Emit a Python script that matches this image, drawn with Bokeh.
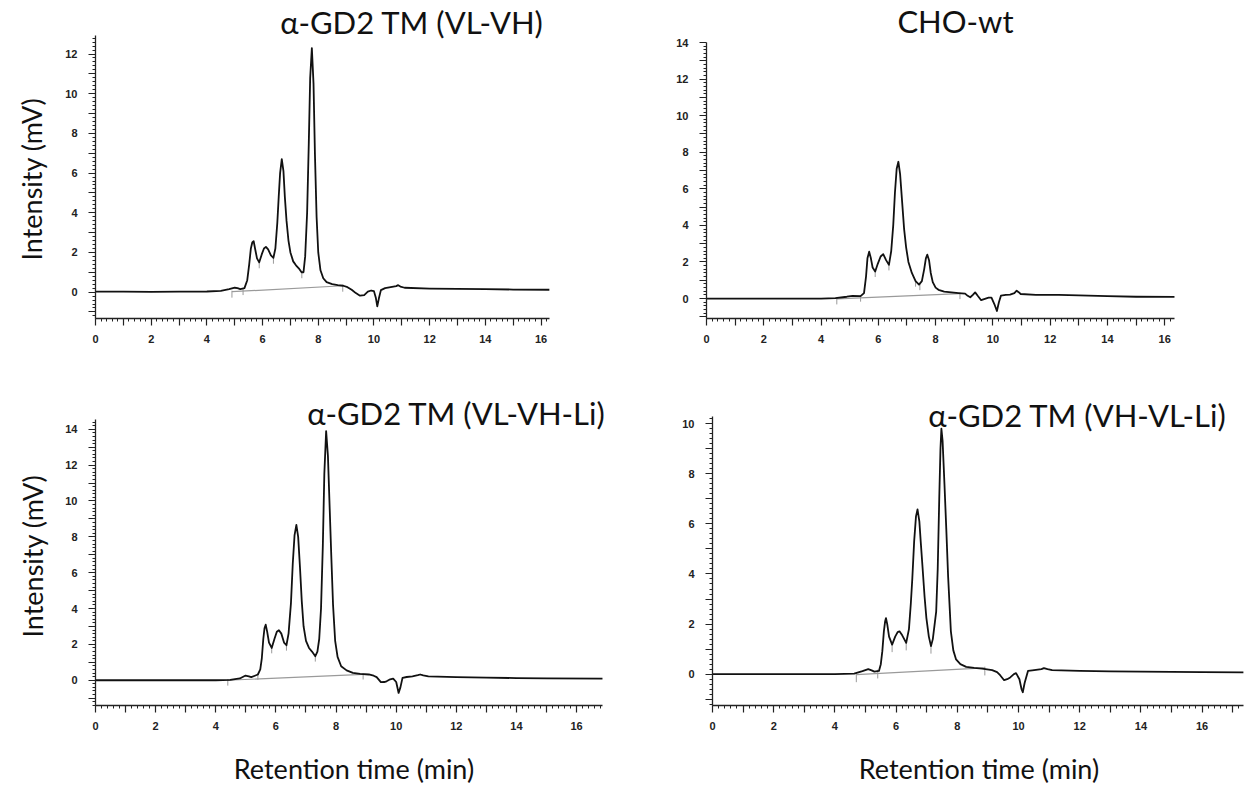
import numpy as np
from bokeh.plotting import figure
from bokeh.layouts import column, row
from bokeh.models import FixedTicker, Label, Range1d, Title
from bokeh.embed import file_html
from bokeh.resources import INLINE

# ---------------- data ----------------
titles = ["α-GD2 TM (VL-VH)", "CHO-wt", "α-GD2 TM (VL-VH-Li)", "α-GD2 TM (VH-VL-Li)"]
y_title = "Intensity (mV)"
x_title = "Retention time (min)"

# Panel 1: α-GD2 TM (VL-VH)
t1 = [0, 1, 2, 3, 4, 4.5, 4.8, 5.0, 5.1, 5.2, 5.35, 5.45, 5.52, 5.58, 5.63, 5.68, 5.73, 5.8, 5.88,
      5.97, 6.05, 6.12, 6.2, 6.3, 6.39, 6.46, 6.53, 6.58, 6.63, 6.69, 6.75, 6.8, 6.86, 6.93, 7.0,
      7.1, 7.2, 7.3, 7.4, 7.47, 7.53, 7.6, 7.66, 7.71, 7.77, 7.83, 7.88, 7.94, 8.0, 8.08, 8.18,
      8.3, 8.5, 8.7, 8.9, 9.05, 9.2, 9.35, 9.5, 9.65, 9.78, 9.9, 10.0, 10.07, 10.12, 10.18, 10.25,
      10.4, 10.6, 10.8, 10.87, 10.95, 11.1, 12, 13, 14, 15, 16.3]
i1 = [0.02, 0.02, 0.01, 0.02, 0.03, 0.06, 0.15, 0.22, 0.2, 0.15, 0.2, 0.6, 1.4, 2.2, 2.5, 2.57, 2.2, 1.7, 1.5,
      1.9, 2.2, 2.28, 2.15, 1.85, 1.73, 2.2, 3.5, 4.8, 6.0, 6.7, 6.1, 4.8, 3.6, 2.6, 2.0,
      1.55, 1.35, 1.2, 1.0, 1.0, 1.8, 4.0, 7.5, 10.8, 12.3, 10.5, 7.0, 3.8, 2.0, 1.1, 0.7,
      0.5, 0.4, 0.35, 0.32, 0.25, 0.12, -0.05, -0.18, -0.15, 0.02, 0.08, 0.05, -0.3, -0.72, -0.3, 0.1,
      0.2, 0.25, 0.3, 0.35, 0.28, 0.22, 0.18, 0.16, 0.15, 0.13, 0.12]
base1 = [(4.9, 0.02), (8.9, 0.32)]
marks1_t = [4.9, 5.3, 5.88, 6.39, 7.41, 8.88]
marks1_v = [0.02, 0.15, 1.5, 1.73, 1.0, 0.32]

# Panel 2: CHO-wt
t2 = [0, 2, 4, 4.5, 4.9, 5.1, 5.38, 5.5, 5.57, 5.62, 5.68, 5.74, 5.8, 5.89, 5.98, 6.08, 6.17, 6.27,
      6.37, 6.45, 6.52, 6.58, 6.64, 6.7, 6.76, 6.83, 6.9, 6.97, 7.05, 7.17, 7.3, 7.42, 7.52, 7.6,
      7.66, 7.71, 7.77, 7.83, 7.9, 8.0, 8.1, 8.3, 8.55, 8.8, 9.03, 9.12, 9.21, 9.3, 9.38, 9.47,
      9.59, 9.72, 9.85, 9.95, 10.05, 10.14, 10.21, 10.28, 10.45, 10.6, 10.75, 10.83, 10.9, 10.97,
      11.5, 12.3, 13, 14, 15, 16.34]
i2 = [0.0, 0.0, 0.0, 0.02, 0.1, 0.15, 0.13, 0.3, 1.2, 2.2, 2.56, 2.2, 1.7, 1.48, 1.9, 2.3, 2.43, 2.1,
      1.84, 2.6, 4.0, 5.8, 7.1, 7.48, 6.8, 5.3, 3.8, 2.8, 2.0, 1.4, 0.95, 0.76, 0.95, 1.6,
      2.2, 2.4, 2.1, 1.4, 0.9, 0.6, 0.48, 0.38, 0.34, 0.3, 0.27, 0.15, 0.07, 0.2, 0.34, 0.15,
      -0.09, -0.02, 0.05, 0.05, -0.3, -0.68, -0.2, 0.16, 0.2, 0.22, 0.3, 0.43, 0.35, 0.25,
      0.2, 0.2, 0.17, 0.13, 0.1, 0.09]
base2 = [(4.55, -0.02), (8.85, 0.27)]
marks2_t = [4.55, 5.38, 5.89, 6.37, 7.3, 7.45, 8.85]
marks2_v = [-0.02, 0.13, 1.48, 1.84, 0.95, 0.76, 0.27]

# Panel 3: α-GD2 TM (VL-VH-Li)
t3 = [0, 2, 4, 4.48, 4.8, 4.99, 5.1, 5.18, 5.3, 5.4, 5.48, 5.53, 5.58, 5.62, 5.66, 5.71, 5.77, 5.86,
      5.95, 6.03, 6.1, 6.18, 6.27, 6.35, 6.42, 6.5, 6.56, 6.62, 6.68, 6.74, 6.8, 6.86, 6.92, 7.0,
      7.1, 7.2, 7.31, 7.38, 7.44, 7.5, 7.56, 7.61, 7.67, 7.73, 7.79, 7.84, 7.9, 7.97, 8.05, 8.17,
      8.35, 8.56, 8.8, 9.09, 9.25, 9.35, 9.49, 9.6, 9.68, 9.8, 9.9, 10.0, 10.08, 10.14, 10.21,
      10.35, 10.54, 10.72, 10.8, 10.9, 11.07, 12, 13, 14, 15, 16.86]
i3 = [0.0, 0.0, 0.0, 0.02, 0.1, 0.26, 0.22, 0.17, 0.25, 0.32, 0.6, 1.2, 2.3, 2.9, 3.1, 2.7, 2.1, 1.8,
      2.3, 2.7, 2.79, 2.6, 2.1, 1.95, 2.6, 4.3, 6.5, 8.1, 8.67, 8.0, 6.3, 4.4, 3.0, 2.2,
      1.8, 1.6, 1.34, 1.6, 2.3, 4.0, 7.5, 11.5, 13.9, 12.5, 9.5, 7.0, 4.2, 2.2, 1.3, 0.78,
      0.55, 0.41, 0.36, 0.32, 0.25, 0.17, -0.11, -0.1, -0.06, 0.05, 0.09, -0.1, -0.71, -0.4, 0.13,
      0.18, 0.22, 0.28, 0.32, 0.27, 0.22, 0.17, 0.14, 0.12, 0.1, 0.09]
base3 = [(4.4, 0.0), (8.9, 0.33)]
marks3_t = [4.4, 5.4, 5.86, 6.35, 7.31, 8.9]
marks3_v = [0.0, 0.32, 1.8, 1.95, 1.34, 0.34]

# Panel 4: α-GD2 TM (VH-VL-Li)
t4 = [0, 2, 4, 4.63, 4.9, 5.09, 5.2, 5.29, 5.44, 5.5, 5.55, 5.6, 5.64, 5.67, 5.71, 5.77, 5.87, 5.97,
      6.05, 6.11, 6.2, 6.33, 6.42, 6.48, 6.53, 6.59, 6.65, 6.7, 6.76, 6.81, 6.86, 6.93, 6.99, 7.07,
      7.14, 7.2, 7.26, 7.31, 7.36, 7.41, 7.45, 7.48, 7.52, 7.58, 7.64, 7.7, 7.79, 7.87, 7.96, 8.1,
      8.29, 8.55, 8.81, 9.14, 9.3, 9.4, 9.53, 9.63, 9.73, 9.85, 9.92, 10.03, 10.1, 10.14, 10.2,
      10.31, 10.45, 10.57, 10.75, 10.83, 10.95, 11.1, 12, 13, 14, 15, 16, 17.35]
i4 = [0.0, 0.0, 0.0, 0.02, 0.12, 0.2, 0.15, 0.1, 0.13, 0.4, 0.92, 1.7, 2.1, 2.24, 2.0, 1.5, 1.18, 1.5,
      1.68, 1.71, 1.55, 1.25, 1.8, 2.8, 3.82, 5.3, 6.3, 6.58, 6.1, 5.2, 4.34, 3.1, 2.24, 1.5,
      1.12, 1.4, 2.0, 2.5, 4.2, 7.0, 9.0, 9.8, 9.3, 7.6, 5.8, 3.9, 1.71, 0.95, 0.59, 0.4,
      0.29, 0.25, 0.22, 0.16, 0.08, -0.04, -0.24, -0.2, -0.13, 0.0, 0.04, -0.2, -0.6, -0.72, -0.35,
      0.13, 0.15, 0.17, 0.2, 0.24, 0.2, 0.16, 0.13, 0.11, 0.1, 0.09, 0.08, 0.07]
base4 = [(4.7, -0.02), (8.9, 0.25)]
marks4_t = [4.7, 5.4, 5.87, 6.33, 7.14, 8.9]
marks4_v = [-0.02, 0.13, 1.18, 1.25, 1.12, 0.25]

# axis extents: x axis end, y axis (bottom, top), highest labelled y tick
x_ends = [16.32, 16.34, 16.86, 17.35]
y_axes = [(-1.33, 12.95), (-1.09, 14.0), (-1.41, 14.56), (-1.25, 10.3)]
y_label_max = [12, 14, 14, 10]

FONT = "Lato"


def panel(t, i, base, mt, mv, xend, yax, ymax, W, H, frame, title, tcenter, ylab, xlab):
    """frame = (left, top, bottom, y_axis_top_px, px_per_x_unit) in figure pixels."""
    fl, ft, fb, ytop_px, kx = frame
    ybot, ytop = yax
    ky = (fb - ytop_px) / (ytop - ybot)
    p = figure(width=W, height=H, output_backend="svg", toolbar_location=None,
               x_range=Range1d(0, (W - fl) / kx),
               y_range=Range1d(ybot, ybot + (fb - ft) / ky),
               min_border_left=fl, min_border_right=0, min_border_top=ft,
               min_border_bottom=H - fb, title=None)
    p.outline_line_color = None
    p.xgrid.visible = False
    p.ygrid.visible = False

    # integration baseline and peak-split marks (grey)
    p.line([base[0][0], base[1][0]], [base[0][1], base[1][1]], color="#9a9a9a", line_width=1.2)
    p.segment(x0=mt, y0=[v - 0.3 for v in mv], x1=mt, y1=[v + 0.05 for v in mv],
              color="#9a9a9a", line_width=1)
    # chromatogram
    p.line(t, i, color="#111111", line_width=1.8, line_join="round")

    xt = list(range(0, int(xend) + 1))
    p.xaxis.ticker = FixedTicker(ticks=xt, minor_ticks=list(np.round(np.arange(0, xend, 0.2), 2)))
    p.xaxis.major_label_overrides = {k: ("" if k % 2 else str(k)) for k in xt}
    p.xaxis.bounds = (0, xend)
    yt = list(range(int(np.ceil(ybot)), int(ytop) + 1))
    p.yaxis.ticker = FixedTicker(ticks=yt,
                                 minor_ticks=list(np.round(np.arange(-1.4, ytop, 0.2), 2)))
    p.yaxis.major_label_overrides = {k: (str(k) if (k % 2 == 0 and 0 <= k <= ymax) else "") for k in yt}
    p.yaxis.bounds = (ybot, ytop)

    for ax in (p.xaxis[0], p.yaxis[0]):
        ax.axis_line_color = "#222222"
        ax.axis_line_width = 1.3
        ax.major_tick_line_color = "#222222"
        ax.minor_tick_line_color = "#222222"
        ax.major_tick_line_width = 1.2
        ax.minor_tick_line_width = 1
        ax.major_tick_in = 0
        ax.major_tick_out = 7
        ax.minor_tick_in = 0
        ax.minor_tick_out = 3
        ax.major_label_text_font = "Liberation Sans"
        ax.major_label_text_font_style = "bold"
        ax.major_label_text_font_size = "11px"
        ax.major_label_text_color = "#222222"
        ax.axis_label_text_font = FONT
        ax.axis_label_text_font_style = "normal"
        ax.axis_label_text_font_size = "27px"
        ax.axis_label_text_color = "#111111"
    p.xaxis.major_label_standoff = 9
    p.yaxis.major_label_standoff = 11
    if xlab:
        p.xaxis.axis_label = xlab
        p.xaxis.axis_label_standoff = 19
    if ylab:
        text, start_px, so = ylab
        p.add_layout(Title(text=text, align="left", offset=fb - start_px, vertical_align="middle",
                           standoff=so, text_font=FONT, text_font_size="27px",
                           text_font_style="normal", text_color="#111111"), "left")

    # panel title, placed inside the (extended) frame
    cx, cy = tcenter
    p.add_layout(Label(x=(cx - fl) / kx, y=ybot + (fb - cy) / ky, text=title,
                       text_align="center", text_baseline="middle", text_font=FONT,
                       text_font_size="31px", text_color="#111111"))
    return p


p1 = panel(t1, i1, base1, marks1_t, marks1_v, x_ends[0], y_axes[0], y_label_max[0],
           612, 378, (91, 0, 321, 35, 28.06), titles[0], (410, 22), (y_title, 263, 27), None)
p2 = panel(t2, i2, base2, marks2_t, marks2_v, x_ends[1], y_axes[1], y_label_max[1],
           633, 378, (94, 0, 318, 42, 28.64), titles[1], (955 - 612, 20), None, None)
p3 = panel(t3, i3, base3, marks3_t, marks3_v, x_ends[2], y_axes[2], y_label_max[2],
           612, 409, (95, 0, 329, 41, 30.07), titles[2], (456, 35), (y_title, 261, 26), x_title)
p4 = panel(t4, i4, base4, marks4_t, marks4_v, x_ends[3], y_axes[3], y_label_max[3],
           633, 409, (100, 0, 330, 38, 30.6), titles[3], (1077 - 612, 37), None, x_title)

layout = column(row(p1, p2, spacing=0), row(p3, p4, spacing=0), spacing=0)
open("out.html", "w").write(file_html(layout, INLINE))
